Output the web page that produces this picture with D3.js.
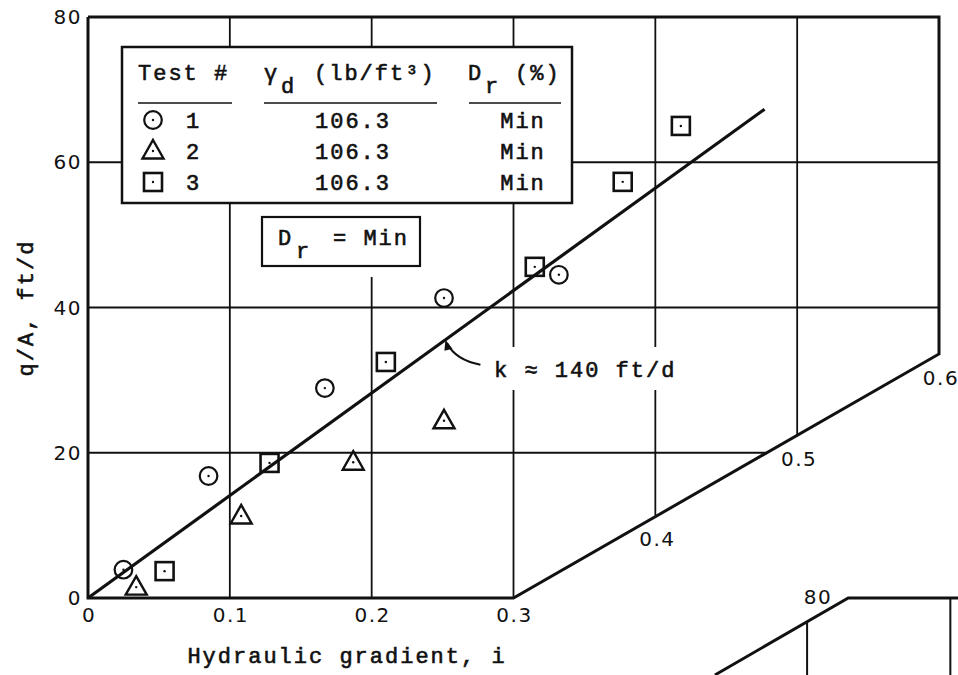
<!DOCTYPE html>
<html>
<head>
<meta charset="utf-8">
<script src="https://cdn.jsdelivr.net/npm/d3@7"></script>
<style>
  body { margin: 0; background: #fff; }
  .mono { font-family: "Liberation Mono", monospace; font-size: 22px; letter-spacing: 2px; fill: #111; stroke: #111; stroke-width: 0.6px; }
  .tick { font-family: "DejaVu Sans", sans-serif; font-size: 20px; letter-spacing: 1.5px; fill: #111; }
</style>
</head>
<body>
<script>
// axis values
const iTicks = [0, 0.1, 0.2, 0.3];
const qTicks = [0, 20, 40, 60, 80];
const gridI = [0.1, 0.2, 0.3, 0.4, 0.5, 0.6];
const gridQ = [20, 40, 60];
// sloping i-axis past 0.3: q/A level where it meets each i
const diagI = [0.3, 0.4, 0.5, 0.6];
const diagQ = [0, 11.4, 22.5, 33.6];

// test 1 (circles)
const t1I = [0.025, 0.085, 0.167, 0.251, 0.332];
const t1Q = [3.9, 16.8, 28.9, 41.3, 44.5];
// test 2 (triangles)
const t2I = [0.034, 0.108, 0.187, 0.251];
const t2Q = [1.5, 11.3, 18.7, 24.4];
// test 3 (squares)
const t3I = [0.054, 0.128, 0.210, 0.315, 0.377, 0.418];
const t3Q = [3.7, 18.6, 32.5, 45.6, 57.3, 65.0];

// fitted line, k ~ 140 ft/d
const fitI = [0, 0.477];
const fitQ = [0, 67.3];

// legend table
const testIds = ["1", "2", "3"];
const gammaD = ["106.3", "106.3", "106.3"];
const drVals = ["Min", "Min", "Min"];
const symbols = ["circle", "triangle", "square"];

// corner of the next panel showing at bottom right
const nextI = [0.442, 0.536, 0.62];
const nextQ = [-10.6, 0, 0];
const nextGridI = [0.507, 0.608];
const nextGridTop = [-3.3, 0];

const width = 958, height = 675;

const x = d3.scaleLinear().domain([0, 0.6]).range([88, 939]);
const y = d3.scaleLinear().domain([0, 80]).range([598, 17]);

const svg = d3.select("body").append("svg")
  .attr("width", width)
  .attr("height", height);

const diagAt = d3.scaleLinear().domain(diagI).range(diagQ);
function floorQ(i) { return i <= 0.3 ? 0 : diagAt(i); }

const line = d3.line().x(d => x(d[0])).y(d => y(d[1]));

// grid
const grid = svg.append("g").attr("stroke", "#111").attr("stroke-width", 1.8);
grid.selectAll(".vg").data(gridI).enter().append("line")
  .attr("x1", d => x(d)).attr("x2", d => x(d))
  .attr("y1", y(80)).attr("y2", d => y(floorQ(d)));
grid.selectAll(".hg").data(gridQ).enter().append("line")
  .attr("x1", x(0))
  .attr("x2", d => x(Math.min(0.6, diagAt.invert(d))))
  .attr("y1", d => y(d)).attr("y2", d => y(d));

// gaps in the grid behind the labels
svg.append("rect").attr("x", 488).attr("y", 347).attr("width", 200).attr("height", 43).attr("fill", "#fff");
svg.append("rect").attr("x", 262).attr("y", 203).attr("width", 158).attr("height", 74).attr("fill", "#fff");

// frame: left, top, right, sloping bottom
const frame = [[0, 80], [0.6, 80], [0.6, diagQ[3]], [0.3, 0], [0, 0], [0, 80]];
svg.append("path").datum(frame)
  .attr("d", line)
  .attr("fill", "none").attr("stroke", "#111").attr("stroke-width", 3)
  .attr("stroke-linejoin", "miter");

// next panel corner
svg.append("path").datum(nextI.map((d, k) => [d, nextQ[k]]))
  .attr("d", line)
  .attr("fill", "none").attr("stroke", "#111").attr("stroke-width", 3);
svg.selectAll(".ng").data(nextGridI).enter().append("line")
  .attr("x1", d => x(d)).attr("x2", d => x(d))
  .attr("y1", (d, k) => y(nextGridTop[k])).attr("y2", height)
  .attr("stroke", "#111").attr("stroke-width", 2);
svg.append("text").attr("class", "tick")
  .attr("x", x(nextI[1]) - 16).attr("y", y(0) + 6)
  .attr("text-anchor", "end").text("80");

// tick labels
svg.selectAll(".yl").data(qTicks).enter().append("text")
  .attr("class", "tick")
  .attr("x", 82).attr("y", d => y(d) + 7)
  .attr("text-anchor", "end")
  .text(d => d);
svg.selectAll(".xl").data(iTicks).enter().append("text")
  .attr("class", "tick")
  .attr("x", d => x(d) + 1).attr("y", y(0) + 24)
  .attr("text-anchor", "middle")
  .text(d => d === 0 ? "0" : d3.format(".1f")(d));
svg.selectAll(".dl").data(diagI.slice(1)).enter().append("text")
  .attr("class", "tick")
  .attr("x", d => x(d) + 2).attr("y", d => y(diagAt(d)) + 31)
  .attr("text-anchor", "middle")
  .text(d => d3.format(".1f")(d));

// axis titles
svg.append("text").attr("class", "mono")
  .attr("x", 347).attr("y", 663)
  .attr("text-anchor", "middle")
  .text("Hydraulic gradient, i");
svg.append("text").attr("class", "mono")
  .attr("transform", "translate(33,308) rotate(-90)")
  .attr("text-anchor", "middle")
  .text("q/A, ft/d");

// fitted line
svg.append("path").datum(fitI.map((d, k) => [d, fitQ[k]]))
  .attr("d", line)
  .attr("fill", "none").attr("stroke", "#111").attr("stroke-width", 3.2);

// symbols
function drawSymbol(g, type, cx, cy) {
  if (type === "circle") {
    g.append("circle").attr("cx", cx).attr("cy", cy).attr("r", 8.8)
      .attr("fill", "none").attr("stroke", "#111").attr("stroke-width", 2.2);
  } else if (type === "triangle") {
    g.append("path")
      .attr("d", `M${cx},${cy - 11}L${cx + 10.5},${cy + 7.5}L${cx - 10.5},${cy + 7.5}Z`)
      .attr("fill", "none").attr("stroke", "#111").attr("stroke-width", 2.4)
      .attr("stroke-linejoin", "miter");
  } else {
    g.append("rect").attr("x", cx - 9).attr("y", cy - 9).attr("width", 18).attr("height", 18)
      .attr("fill", "none").attr("stroke", "#111").attr("stroke-width", 2.6);
  }
  g.append("circle").attr("cx", cx).attr("cy", cy).attr("r", 1.2).attr("fill", "#111");
}

const pts = svg.append("g");
t1I.forEach((d, k) => drawSymbol(pts, "circle", x(d), y(t1Q[k])));
t2I.forEach((d, k) => drawSymbol(pts, "triangle", x(d), y(t2Q[k])));
t3I.forEach((d, k) => drawSymbol(pts, "square", x(d), y(t3Q[k])));

// k label with curved arrow
const slope = fitQ[1] / fitI[1];
const tipX = x(0.252), tipY = y(0.252 * slope);
svg.append("path")
  .attr("d", `M${tipX + 35},${tipY + 25}Q${tipX + 10},${tipY + 20} ${tipX + 2},${tipY + 4}`)
  .attr("fill", "none").attr("stroke", "#111").attr("stroke-width", 2);
svg.append("path")
  .attr("d", `M${tipX},${tipY}L${tipX + 7},${tipY + 9}L${tipX - 1},${tipY + 11}Z`)
  .attr("fill", "#111");
svg.append("text").attr("class", "mono")
  .attr("x", 494).attr("y", 377)
  .text("k ≈ 140 ft/d");

// legend box
const lg = svg.append("g");
lg.append("rect").attr("x", 122).attr("y", 47).attr("width", 450).attr("height", 156)
  .attr("fill", "#fff").attr("stroke", "#111").attr("stroke-width", 2.5);
lg.append("text").attr("class", "mono").attr("x", 138).attr("y", 80).text("Test #");
const gh = lg.append("text").attr("class", "mono").attr("x", 264).attr("y", 80);
gh.append("tspan").text("γ");
gh.append("tspan").attr("dy", 13).attr("x", 281).text("d");
gh.append("tspan").attr("dy", -13).attr("x", 314).text("(lb/ft³)");
const dh = lg.append("text").attr("class", "mono").attr("x", 468).attr("y", 80);
dh.append("tspan").text("D");
dh.append("tspan").attr("dy", 13).attr("x", 485).text("r");
dh.append("tspan").attr("dy", -13).attr("x", 515).text("(%)");
[[138, 232], [264, 437], [469, 561]].forEach(s => {
  lg.append("line").attr("x1", s[0]).attr("x2", s[1]).attr("y1", 103).attr("y2", 103)
    .attr("stroke", "#111").attr("stroke-width", 1.6);
});
testIds.forEach((t, k) => {
  const by = 128 + k * 31;
  drawSymbol(lg, symbols[k], 153, by - 8);
  lg.append("text").attr("class", "mono").attr("x", 186).attr("y", by).text(t);
  lg.append("text").attr("class", "mono").attr("x", 353).attr("y", by)
    .attr("text-anchor", "middle").text(gammaD[k]);
  lg.append("text").attr("class", "mono").attr("x", 523).attr("y", by)
    .attr("text-anchor", "middle").text(drVals[k]);
});

// Dr = Min box
svg.append("rect").attr("x", 262).attr("y", 217).attr("width", 158).attr("height", 49)
  .attr("fill", "#fff").attr("stroke", "#111").attr("stroke-width", 2.2);
const db = svg.append("text").attr("class", "mono").attr("x", 278).attr("y", 245);
db.append("tspan").text("D");
db.append("tspan").attr("dy", 13).attr("x", 296).text("r");
db.append("tspan").attr("dy", -13).attr("x", 333).text("= Min");
</script>
</body>
</html>
